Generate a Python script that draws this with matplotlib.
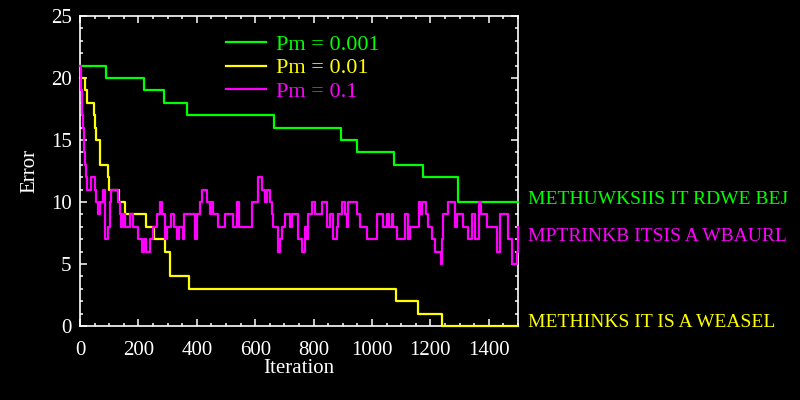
import matplotlib
matplotlib.use("Agg")
import matplotlib.pyplot as plt

# best-error step curves for three mutation rates
green_it = [0, 88, 219, 288, 365, 664, 894, 949, 1075, 1176, 1293, 1500]
green_err = [21, 20, 19, 18, 17, 16, 15, 14, 13, 12, 10, 10]

yellow_it = [0, 18, 25, 47, 50, 56, 70, 96, 98, 133, 153, 225, 255, 291, 308,
             373, 1082, 1158, 1240, 1500]
yellow_err = [20, 19, 18, 17, 16, 15, 13, 12, 11, 10, 9, 8, 7, 6, 4,
              3, 2, 1, 0, 0]

mag_it = [0, 3, 5, 6, 8, 10, 12, 14, 16, 20, 24, 39, 50, 56, 60, 67, 79, 85, 87,
          96, 102, 107, 130, 136, 140, 147, 154, 170, 183, 200, 211, 220, 225,
          240, 250, 262, 274, 282, 291, 297, 312, 323, 331, 339, 354, 357, 394,
          400, 411, 419, 434, 445, 450, 457, 474, 497, 525, 537, 545, 588, 611,
          622, 635, 640, 651, 656, 662, 679, 685, 691, 702, 719, 725, 748, 759,
          771, 776, 782, 793, 805, 828, 845, 855, 868, 879, 885, 896, 908, 914,
          919, 948, 959, 982, 1016, 1039, 1053, 1058, 1070, 1073, 1085, 1113,
          1124, 1130, 1160, 1164, 1170, 1185, 1193, 1204, 1216, 1236, 1240,
          1244, 1261, 1284, 1290, 1313, 1330, 1341, 1353, 1365, 1372, 1393,
          1427, 1438, 1467, 1478, 1496, 1500]
mag_err = [21, 20, 19, 18, 17, 16, 15, 14, 13, 12, 11, 12, 11, 10, 9, 10, 11, 8, 7,
           8, 10, 11, 10, 9, 8, 9, 8, 9, 8, 7, 6, 7, 6,
           7, 8, 9, 10, 9, 7, 8, 9, 8, 7, 8, 7, 9, 7,
           9, 10, 11, 10, 9, 10, 9, 8, 9, 8, 10, 8, 10, 12,
           11, 10, 11, 10, 9, 8, 6, 7, 8, 9, 8, 9, 7, 6,
           8, 7, 9, 10, 9, 10, 8, 9, 7, 8, 9, 10, 9, 8,
           10, 9, 8, 7, 9, 8, 9, 8, 9, 8, 7, 9,
           7, 8, 10, 9, 10, 9, 8, 7, 6, 5, 7,
           9, 10, 8, 9, 8, 7, 9, 7, 10, 9, 8,
           6, 9, 7, 5, 6, 8]

labels = ["Pm = 0.001", "Pm = 0.01", "Pm = 0.1"]
strings = ["METHUWKSIIS IT RDWE BEJ", "MPTRINKB ITSIS A WBAURL",
           "METHINKS IT IS A WEASEL"]

GREEN = "#00ff00"
YELLOW = "#ffff00"
MAGENTA = "#ff00ff"

plt.rcParams['font.family'] = ['Liberation Serif', 'DejaVu Serif']

fig = plt.figure(figsize=(8, 4), dpi=100, facecolor="black")
ax = fig.add_axes([0.1, 0.185, 0.5475, 0.775])
ax.set_facecolor("black")

ax.plot(green_it, green_err, drawstyle="steps-post", color=GREEN, lw=1.6,
        label=labels[0], zorder=3, clip_on=False)
ax.plot(yellow_it, yellow_err, drawstyle="steps-post", color=YELLOW, lw=1.6,
        label=labels[1], zorder=3, clip_on=False)
ax.plot(mag_it, mag_err, drawstyle="steps-post", color=MAGENTA, lw=1.6,
        label=labels[2], zorder=3, clip_on=False)

ax.set_xlim(0, 1500)
ax.set_ylim(0, 25)
ax.set_xticks(range(0, 1501, 200))
ax.set_xticks(range(0, 1501, 50), minor=True)
ax.set_yticks(range(0, 26, 5))
ax.set_yticks(range(0, 26, 1), minor=True)

for s in ax.spines.values():
    s.set_color("white")
    s.set_linewidth(1.2)
ax.tick_params(which="both", direction="in", top=True, right=True,
               colors="white", width=1.1, labelsize=15)
ax.tick_params(which="major", length=5)
ax.tick_params(which="minor", length=2.5)
ax.tick_params(axis="x", pad=11)
ax.tick_params(axis="y", pad=6)

ax.set_xlabel("Iteration", color="white", fontsize=15, labelpad=-1)
ax.set_ylabel("Error", color="white", fontsize=15, labelpad=8)

leg = ax.legend(loc="upper left", bbox_to_anchor=(0.333, 0.94), frameon=False,
                fontsize=16, handlelength=1.8, handletextpad=0.45,
                labelspacing=0.12, borderpad=0, borderaxespad=0,
                labelcolor="linecolor")

# final strings, written beside the end of each curve
ax.text(1535, 10.2, strings[0], color=GREEN, fontsize=14, va="center", clip_on=False)
ax.text(1535, 7.2, strings[1], color=MAGENTA, fontsize=14, va="center", clip_on=False)
ax.text(1535, 0.3, strings[2], color=YELLOW, fontsize=14, va="center", clip_on=False)

fig.savefig("out.png", dpi=100, facecolor="black")
